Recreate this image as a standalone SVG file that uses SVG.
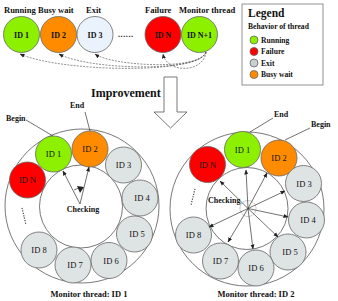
<svg xmlns="http://www.w3.org/2000/svg" width="338" height="301" viewBox="0 0 338 301">
<style>
.t{font-family:"Liberation Serif","Times New Roman",serif;fill:#111}
.b{font-weight:bold}
.c{stroke:#666;stroke-width:0.8}
.g{fill:#8CF000}.o{fill:#FF8C00}.r{fill:#FF0000}.x{fill:#DEE3E3}.e{fill:#EAF3FB}
.ln{fill:none;stroke:#333;stroke-width:0.7}
.ring{fill:none;stroke:#555;stroke-width:0.8}
.dash{fill:none;stroke:#444;stroke-width:0.6;stroke-dasharray:2,1.2}
</style>
<defs>
<marker id="ah" viewBox="0 0 10 10" refX="9" refY="5" markerWidth="5" markerHeight="5" orient="auto-start-reverse" markerUnits="userSpaceOnUse">
<path d="M0,1 L10,5 L0,9 z" fill="#222"/>
</marker>
</defs>
<rect width="338" height="301" fill="#fff"/>

<!-- top labels -->
<g id="top-labels" class="t b" font-size="8.5">
<text x="4" y="13">Running</text>
<text x="38" y="13">Busy wait</text>
<text x="86" y="13">Exit</text>
<text x="145" y="13">Failure</text>
<text x="179" y="13">Monitor thread</text>
</g>

<g id="t1"><circle class="c g" cx="21.5" cy="34.5" r="18"/><text class="t b" x="21.5" y="37.5" font-size="8" text-anchor="middle">ID 1</text></g>
<g id="t2"><circle class="c o" cx="58.5" cy="34.5" r="18"/><text class="t b" x="58.5" y="37.5" font-size="8" text-anchor="middle">ID 2</text></g>
<g id="t3"><circle class="c e" cx="95" cy="34.5" r="18"/><text class="t b" x="95" y="37.5" font-size="8" text-anchor="middle">ID 3</text></g>
<text class="t b" x="118" y="37" font-size="8" letter-spacing="0.6">......</text>
<g id="tN"><circle class="c r" cx="163" cy="34.5" r="18"/><text class="t b" x="163" y="37.5" font-size="8" text-anchor="middle">ID N</text></g>
<g id="tN1"><circle class="c g" cx="199.5" cy="34.5" r="18"/><text class="t b" x="199.5" y="37.5" font-size="8" text-anchor="middle">ID N+1</text></g>

<g id="top-connectors">
<path class="dash" marker-end="url(#ah)" d="M206,52 C200,75 60,72 20,54"/>
<path class="dash" marker-end="url(#ah)" d="M206,52 C200,73 88,70 59,54"/>
<path class="dash" marker-end="url(#ah)" d="M206,52 C200,71 112,66 95,54"/>
<path class="dash" marker-end="url(#ah)" d="M206,52 C204,73 167,74 163,54"/>
</g>

<!-- legend -->
<g id="legend">
<rect x="242" y="4" width="81" height="81" fill="#fff" stroke="#777" stroke-width="0.8"/>
<text class="t b" x="248" y="17" font-size="11.5">Legend</text>
<text class="t b" x="248" y="29" font-size="7.6">Behavior of thread</text>
<circle class="c g" cx="254" cy="40" r="4"/><text class="t b" x="261" y="42.5" font-size="7.6">Running</text>
<circle class="c r" cx="254" cy="51.5" r="4"/><text class="t b" x="261" y="54" font-size="7.6">Failure</text>
<circle class="c" fill="#C8D0D0" cx="254" cy="63" r="4"/><text class="t b" x="261" y="65.5" font-size="7.6">Exit</text>
<circle class="c o" cx="254" cy="74.5" r="4"/><text class="t b" x="261" y="77" font-size="7.6">Busy wait</text>
</g>

<!-- improvement arrow -->
<g id="improvement">
<text class="t b" x="91" y="97" font-size="12">Improvement</text>
<path d="M164,77 L177,77 L177,112 L187,112 L170.5,128 L154,112 L164,112 Z" fill="#fff" stroke="#555" stroke-width="0.8"/>
</g>

<!-- left diagram -->
<g id="left-diagram">
<circle class="ring" cx="82" cy="206" r="77"/>
<circle class="ring" cx="81" cy="206.5" r="41.5"/>
</g>
<g id="L1"><circle class="c g" cx="53.5" cy="154" r="18"/><text class="t" x="53.5" y="157" font-size="8.5" text-anchor="middle">ID 1</text></g>
<g id="L2"><circle class="c o" cx="90" cy="149" r="18"/><text class="t" x="90" y="152" font-size="8.5" text-anchor="middle">ID 2</text></g>
<g id="L3"><circle class="c x" cx="123.5" cy="165" r="18"/><text class="t" x="123.5" y="168" font-size="8.5" text-anchor="middle">ID 3</text></g>
<g id="L4"><circle class="c x" cx="140" cy="198" r="18"/><text class="t" x="142" y="201" font-size="8.5" text-anchor="middle">ID 4</text></g>
<g id="L5"><circle class="c x" cx="134.5" cy="234" r="18"/><text class="t" x="137" y="237" font-size="8.5" text-anchor="middle">ID 5</text></g>
<g id="L6"><circle class="c x" cx="109" cy="260.5" r="18"/><text class="t" x="111" y="263.5" font-size="8.5" text-anchor="middle">ID 6</text></g>
<g id="L7"><circle class="c x" cx="73" cy="265" r="18"/><text class="t" x="75" y="268" font-size="8.5" text-anchor="middle">ID 7</text></g>
<g id="L8"><circle class="c x" cx="39" cy="250" r="18"/><text class="t" x="39" y="253" font-size="8.5" text-anchor="middle">ID 8</text></g>
<g id="LN"><circle class="c r" cx="27.5" cy="180" r="18"/><text class="t" x="27.5" y="183" font-size="8.5" text-anchor="middle">ID N</text></g>

<g id="left-connectors">
<path class="ln" marker-end="url(#ah)" d="M80,204 L63,171"/>
<path class="ln" marker-end="url(#ah)" d="M80,204 L89,167"/>
<path class="ln" d="M74,190 Q78,187 82,189"/>
<path d="M77,186 L84,187 L80,193 Z" fill="#222"/>
<path d="M22,208 L26,225" stroke="#222" stroke-width="1.2" stroke-dasharray="1,1.5" fill="none"/>
<path class="ln" d="M26,120 L53,136"/>
<path class="ln" d="M85,112 L90,131"/>
</g>
<text class="t b" x="83" y="212" font-size="8" text-anchor="middle">Checking</text>
<text class="t b" x="6" y="121" font-size="8">Begin</text>
<text class="t b" x="70" y="108" font-size="8">End</text>
<text class="t b" x="89" y="297" font-size="8.5" text-anchor="middle">Monitor thread: ID 1</text>

<!-- right diagram -->
<g id="right-diagram">
<circle class="ring" cx="247" cy="209" r="77"/>
<circle class="ring" cx="247" cy="208.5" r="41"/>
<circle cx="248" cy="208.5" r="8" fill="none" stroke="#555" stroke-width="0.6" stroke-dasharray="1,1"/>
</g>
<g id="R1"><circle class="c g" cx="242.5" cy="149.5" r="18"/><text class="t" x="242.5" y="152.5" font-size="8.5" text-anchor="middle">ID 1</text></g>
<g id="R2"><circle class="c o" cx="279" cy="158" r="18"/><text class="t" x="279" y="161" font-size="8.5" text-anchor="middle">ID 2</text></g>
<g id="R3"><circle class="c x" cx="303.5" cy="183.5" r="18"/><text class="t" x="304" y="186.5" font-size="8.5" text-anchor="middle">ID 3</text></g>
<g id="R4"><circle class="c x" cx="306.5" cy="220" r="18"/><text class="t" x="308" y="223" font-size="8.5" text-anchor="middle">ID 4</text></g>
<g id="R5"><circle class="c x" cx="288" cy="252" r="18"/><text class="t" x="290" y="255" font-size="8.5" text-anchor="middle">ID 5</text></g>
<g id="R6"><circle class="c x" cx="256" cy="268" r="18"/><text class="t" x="256" y="271" font-size="8.5" text-anchor="middle">ID 6</text></g>
<g id="R7"><circle class="c x" cx="220.5" cy="261" r="18"/><text class="t" x="220.5" y="264" font-size="8.5" text-anchor="middle">ID 7</text></g>
<g id="R8"><circle class="c x" cx="193.5" cy="235" r="18"/><text class="t" x="193.5" y="238" font-size="8.5" text-anchor="middle">ID 8</text></g>
<g id="RN"><circle class="c r" cx="207.5" cy="164.5" r="18"/><text class="t" x="207.5" y="167.5" font-size="8.5" text-anchor="middle">ID N</text></g>

<g id="right-connectors">
<path class="ln" marker-end="url(#ah)" d="M248,208.5 L220,181"/>
<path class="ln" marker-end="url(#ah)" d="M248,208.5 L246,170"/>
<path class="ln" marker-end="url(#ah)" d="M248,208.5 L267,173"/>
<path class="ln" marker-end="url(#ah)" d="M248,208.5 L285,191"/>
<path class="ln" marker-end="url(#ah)" d="M248,208.5 L288,217"/>
<path class="ln" marker-end="url(#ah)" d="M248,208.5 L278,237"/>
<path class="ln" marker-end="url(#ah)" d="M248,208.5 L253,249"/>
<path class="ln" marker-end="url(#ah)" d="M248,208.5 L228,242"/>
<path class="ln" marker-end="url(#ah)" d="M248,208.5 L209,227"/>
<path d="M195,189 L191,205" stroke="#222" stroke-width="1.2" stroke-dasharray="1,1.5" fill="none"/>
<path class="ln" d="M273,118 L250,132"/>
<path class="ln" d="M310,128 L285,140"/>
</g>
<text class="t b" x="208" y="203" font-size="8">Checking</text>
<text class="t b" x="274" y="117" font-size="8">End</text>
<text class="t b" x="311" y="127" font-size="8">Begin</text>
<text class="t b" x="256" y="297" font-size="8.5" text-anchor="middle">Monitor thread: ID 2</text>
</svg>
